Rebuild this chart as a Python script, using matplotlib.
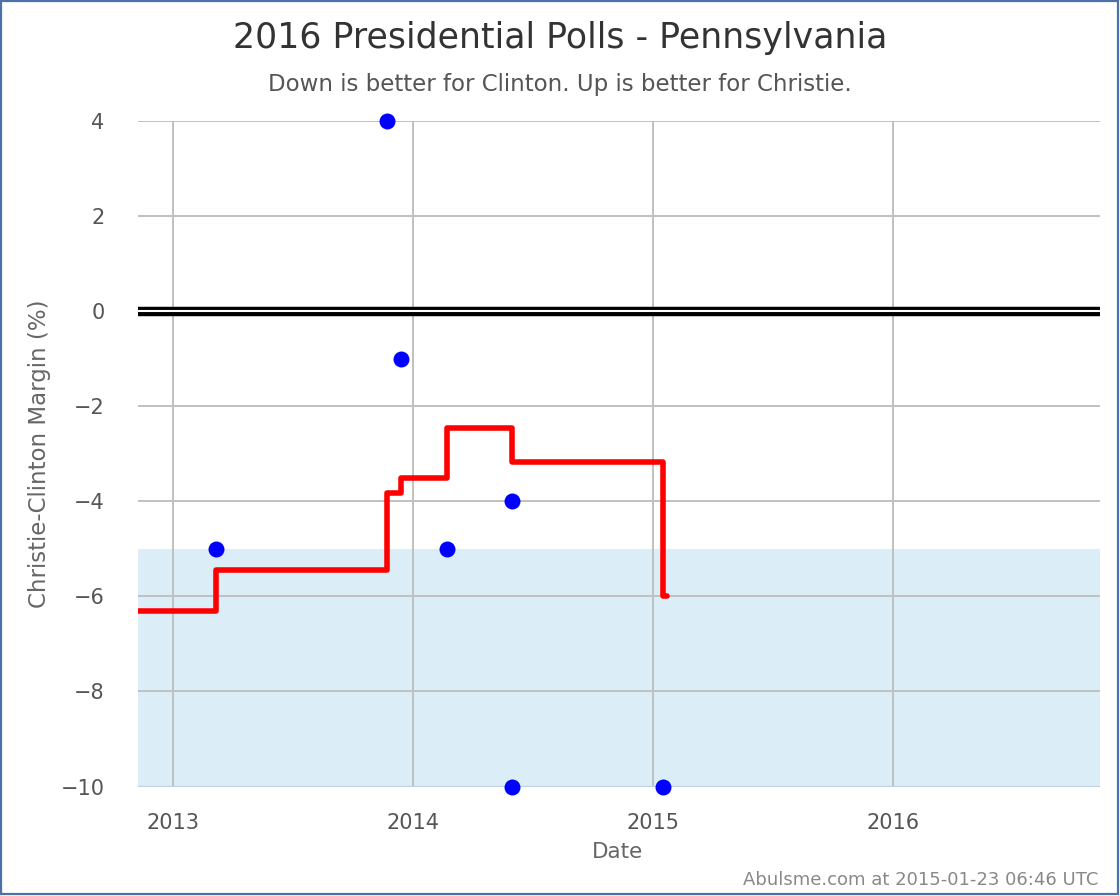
import matplotlib
matplotlib.use("Agg")
import matplotlib.pyplot as plt
import matplotlib.dates as mdates
from matplotlib.patches import Rectangle
import numpy as np
from datetime import datetime

# Poll data
poll_dates = ["2013-03-08", "2013-11-23", "2013-12-14", "2014-02-22",
              "2014-05-31", "2014-05-31", "2015-01-16"]
poll_margins = [-5, 4, -1, -5, -4, -10, -10]

# Running average (step line)
avg_dates = ["2012-11-01", "2013-03-08", "2013-11-23", "2013-12-14",
             "2014-02-22", "2014-06-01", "2015-01-16", "2015-01-22"]
avg_values = [-6.3, -5.45, -3.83, -3.5, -2.45, -3.17, -6.0, -6.0]

x_ticks = ["2013-01-01", "2014-01-01", "2015-01-01", "2016-01-01"]
x_tick_labels = ["2013", "2014", "2015", "2016"]
y_ticks = [-10, -8, -6, -4, -2, 0, 2, 4]

def d(s):
    return mdates.date2num(datetime.strptime(s, "%Y-%m-%d"))

plt.rcParams['font.family'] = ['DejaVu Sans']

fig = plt.figure(figsize=(11.2, 8.96), dpi=100)
W, H = 1120, 896
ax = fig.add_axes([138 / W, (H - 786.5) / H, (1100 - 138) / W, (786.5 - 121) / H])

xmin, xmax = d("2012-11-09"), d("2016-11-10")
ax.set_xlim(xmin, xmax)
ax.set_ylim(-10, 4)

# shaded region
ax.axhspan(-10, -5, color="#dbedf6", zorder=0, lw=0)

# grid
for t in x_ticks:
    ax.axvline(d(t), color="#c0c0c0", lw=1.4, zorder=1)
for y in y_ticks:
    ax.axhline(y, color="#c0c0c0", lw=1.4, zorder=1)

# zero line (double)
ax.axhline(0, color="black", lw=6.8, zorder=2)
ax.axhline(0, color="white", lw=1.5, zorder=2.1)

# bottom axis line
ax.axhline(-10, color="#c0d0e0", lw=1.6, zorder=2.2)

# running average
ax.plot([d(s) for s in avg_dates], avg_values, drawstyle="steps-post",
        color="#ff0000", lw=4.0, solid_joinstyle="round", solid_capstyle="round",
        zorder=3)

# polls
ax.plot([d(s) for s in poll_dates], poll_margins, "o", color="#0000ff",
        markersize=11.5, markeredgewidth=0, zorder=4, clip_on=False)

for s in ax.spines.values():
    s.set_visible(False)

ax.set_xticks([d(t) for t in x_ticks])
ax.set_xticklabels(x_tick_labels)
ax.set_yticks(y_ticks)
ax.set_yticklabels([("\u2212" + str(abs(v))) if v < 0 else str(v) for v in y_ticks])
ax.tick_params(axis="both", length=0, labelsize=15, labelcolor="#555555")
ax.tick_params(axis="x", pad=19)
ax.tick_params(axis="y", pad=24)

fig.text(0.5, (H - 38) / H, "2016 Presidential Polls - Pennsylvania", ha="center",
         va="center", fontsize=25, color="#333333")
fig.text(0.5, (H - 84) / H, "Down is better for Clinton. Up is better for Christie.",
         ha="center", va="center", fontsize=16.5, color="#555555")
fig.text(618 / W, (H - 852) / H, "Date", ha="center", va="center", fontsize=15.5,
         color="#666666")
fig.text(40 / W, (H - 454) / H, "Christie-Clinton Margin (%)", ha="center",
         va="center", rotation=90, fontsize=16.5, color="#666666")
fig.text(1098 / W, (H - 880) / H, "Abulsme.com at 2015-01-23 06:46 UTC", ha="right",
         va="center", fontsize=13, color="#888888")

# figure border
fig.patches.append(Rectangle((1 / W, 2 / H), (W - 3) / W, (H - 3) / H,
                             transform=fig.transFigure, fill=False,
                             edgecolor="#4a72a8", lw=1.6))

fig.savefig("out.png", dpi=100)
